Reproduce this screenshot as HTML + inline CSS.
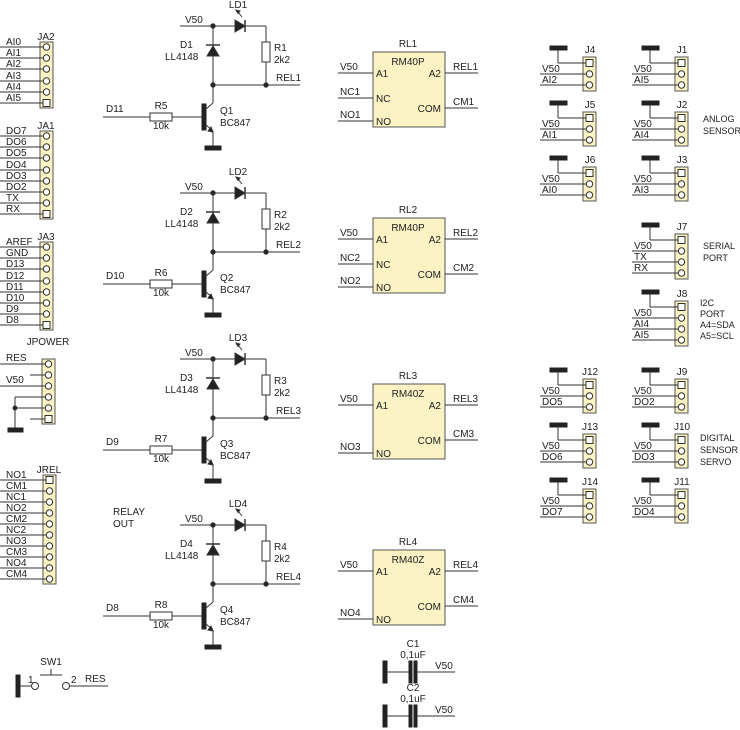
<!DOCTYPE html>
<html><head><meta charset="utf-8"><style>
html,body{margin:0;padding:0;background:#fff;width:740px;height:730px;overflow:hidden}
svg text{font-family:"Liberation Sans",Arial,sans-serif;font-size:10px;fill:#222}
svg text.sm{font-size:9px}
</style></head><body>
<svg id="s" width="740" height="730" viewBox="0 0 740 730" xmlns="http://www.w3.org/2000/svg"></svg>
<script>
var o='';
function L(x1,y1,x2,y2,w){o+='<line x1="'+x1+'" y1="'+y1+'" x2="'+x2+'" y2="'+y2+'" stroke="#333" stroke-width="'+(w||1)+'"/>';}
function T(x,y,t,a,c){o+='<text x="'+x+'" y="'+y+'"'+(a?' text-anchor="'+a+'"':'')+(c?' class="'+c+'"':'')+'>'+t+'</text>';}
function R(x,y,w,h,f,s){o+='<rect x="'+x+'" y="'+y+'" width="'+w+'" height="'+h+'" fill="'+(f||'none')+'" stroke="'+(s||'#333')+'" stroke-width="1"/>';}
function C(x,y,r,f){o+='<circle cx="'+x+'" cy="'+y+'" r="'+r+'" fill="'+(f||'#fff')+'" stroke="#333" stroke-width="1"/>';}
function P(d,f){o+='<path d="'+d+'" fill="'+(f||'none')+'" stroke="#333" stroke-width="1"/>';}
var Y='#fbf3c4';
function hdr(bx,name,ny,ys,sq,labels,ws){
  var top=ys[0]-5,bot=ys[ys.length-1]+5;
  R(bx,top,13,bot-top,Y,'#555');T(bx+6,ny,name,'middle');
  ys.forEach(function(y,i){
    if(labels[i]!==null){L(ws===undefined?0:ws,y,bx+3,y);if(labels[i])T(6,y-2,labels[i]);}
    if(i===sq)R(bx+3,y-3.5,7,7,'#fff');else C(bx+6.5,y,3.2);
  });
}
function seq(a,n,d){var r=[];for(var i=0;i<n;i++)r.push(Math.round(a+i*d));return r;}
hdr(40,'JA2',40,seq(47,6,11.2),5,['AI0','AI1','AI2','AI3','AI4','AI5']);
hdr(40,'JA1',129,seq(136,8,11.2),7,['DO7','DO6','DO5','DO4','DO3','DO2','TX','RX']);
hdr(40,'JA3',240,seq(247,8,11.2),7,['AREF','GND','D13','D12','D11','D10','D9','D8']);
var py=seq(364,6,11);
R(42,py[0]-5,13,py[5]-py[0]+10,Y,'#555');T(48,345,'JPOWER','middle');
L(0,py[0],45,py[0]);T(6,py[0]-3,'RES');
L(30,py[1],45,py[1]);
L(0,py[2],45,py[2]);T(6,py[2]-3,'V50');
L(15,py[3],45,py[3]);L(15,py[4],45,py[4]);L(15,py[3],15,428);C(15,py[4],2,'#222');
L(30,py[5],45,py[5]);
R(8,428,15,4,'#222','#222');
py.forEach(function(y,i){if(i==5)R(45,y-3.5,7,7,'#fff');else C(48.5,y,3.2);});
hdr(43,'JREL',473,seq(480,10,11),0,['NO1','CM1','NC1','NO2','CM2','NC2','NO3','CM3','NO4','CM4']);
var dn=['D11','D10','D9','D8'];
[0,167,333,499].forEach(function(d,i){
  var n=i+1, vy=26+d, jy=85+d, by=117+d;
  T(185,vy-3,'V50');L(180,vy,266,vy);C(213,vy,2.2,'#222');
  P('M235,'+(vy-6)+' L245,'+vy+' L235,'+(vy+6)+' Z','#222');L(245,vy-6,245,vy+6,1.5);
  L(242,vy-9,238,vy-14);P('M236,'+(vy-16)+' l4,1 l-2,2.5 z','#222');
  T(238,vy-18,'LD'+n,'middle');
  L(266,vy,266,jy);R(262,vy+16,8,20,'#fff');T(274,vy+25,'R'+n);T(274,vy+37,'2k2');
  L(213,vy,213,jy);P('M207,'+(vy+30)+' L219,'+(vy+30)+' L213,'+(vy+20)+' Z','#222');L(206,vy+19,220,vy+19,1.5);
  T(180,vy+22,'D'+n);T(165,vy+34,'LL4148');
  L(213,jy,300,jy);C(213,jy,2.2,'#222');C(266,jy,2.2,'#222');T(276,jy-4,'REL'+n);
  L(103,by,150,by);T(106,by-5,dn[i]);R(150,by-4,22,8,'#fff');T(161,by-8,'R'+(n+4),'middle');T(161,by+12,'10k','middle');
  L(172,by,202,by);R(202,by-13,4,26,'#222','#222');
  L(206,by-8,213,by-14);L(213,by-14,213,jy);
  L(206,by+8,213,by+14);P('M213,'+(by+15)+' l-5,-1 l3,-4 z','#222');L(213,by+14,213,by+29);
  R(205,by+29,16,4,'#222','#222');
  T(220,by-3,'Q'+n);T(220,by+9,'BC847');
});
[0,166,332,498].forEach(function(d,i){
  var n=i+1,t=52+d;
  R(373,t,72,75,Y,'#555');T(408,t-5,'RL'+n,'middle');T(408,t+13,i<2?'RM40P':'RM40Z','middle');
  L(338,t+21,373,t+21);T(340,t+18,'V50');T(376,t+25,'A1');
  if(i<2){L(338,t+46,373,t+46);T(340,t+43,'NC'+n);T(376,t+50,'NC');}
  L(338,t+69,373,t+69);T(340,t+66,'NO'+n);T(376,t+73,'NO');
  L(445,t+21,478,t+21);T(453,t+18,'REL'+n);T(441,t+25,'A2','end');
  L(445,t+56,478,t+56);T(453,t+53,'CM'+n);T(441,t+60,'COM','end');
});
[672,716].forEach(function(y,i){
  R(383,y-11,4,22,'#222','#222');L(387,y,409,y);R(409,y-11,3,22,'#222','#222');R(414,y-11,3,22,'#222','#222');
  L(417,y,455,y);T(435,y-3,'V50');T(413,y-25,'C'+(i+1),'middle');T(413,y-14,'0,1uF','middle');
});
R(16,675,4,22,'#222','#222');L(20,686,31,686);T(28,683,'1');C(35,686,3.5);C(66,686,3.5);T(71,683,'2');
L(40,675,62,675);L(51,675,51,669);T(51,665,'SW1','middle');L(70,686,108,686);T(85,682,'RES');
T(113,515,'RELAY');T(113,527,'OUT');
function sc(bx,sq,name,l1,l2,l3){
  var ys=[sq,sq+11,sq+22];if(l3)ys.push(sq+33);
  R(bx,sq-6,13,ys[ys.length-1]-sq+12,Y,'#555');T(bx+7,sq-10,name,'middle');
  R(bx-33,sq-17,17,4,'#222','#222');L(bx-25,sq-13,bx-25,sq);L(bx-25,sq,bx+3,sq);
  R(bx+3,sq-3.5,7,7,'#fff');
  [l1,l2,l3].forEach(function(l,k){if(!l)return;var y=ys[k+1];L(bx-43,y,bx+3,y);T(bx-41,y-2,l);C(bx+6.5,y,3.2);});
}
sc(583,63,'J4','V50','AI2');sc(675,63,'J1','V50','AI5');
sc(583,118,'J5','V50','AI1');sc(675,118,'J2','V50','AI4');
sc(583,173,'J6','V50','AI0');sc(675,173,'J3','V50','AI3');
sc(675,240,'J7','V50','TX','RX');sc(675,307,'J8','V50','AI4','AI5');
sc(583,385,'J12','V50','DO5');sc(675,385,'J9','V50','DO2');
sc(583,440,'J13','V50','DO6');sc(675,440,'J10','V50','DO3');
sc(583,495,'J14','V50','DO7');sc(675,495,'J11','V50','DO4');
T(703,122,'ANLOG','', 'sm');T(703,134,'SENSOR','','sm');
T(703,249,'SERIAL','','sm');T(703,261,'PORT','','sm');
T(700,306,'I2C','','sm');T(700,317,'PORT','','sm');T(700,328,'A4=SDA','','sm');T(700,339,'A5=SCL','','sm');
T(700,441,'DIGITAL','','sm');T(700,453,'SENSOR','','sm');T(700,465,'SERVO','','sm');
document.getElementById('s').innerHTML=o;
</script>
</body></html>
